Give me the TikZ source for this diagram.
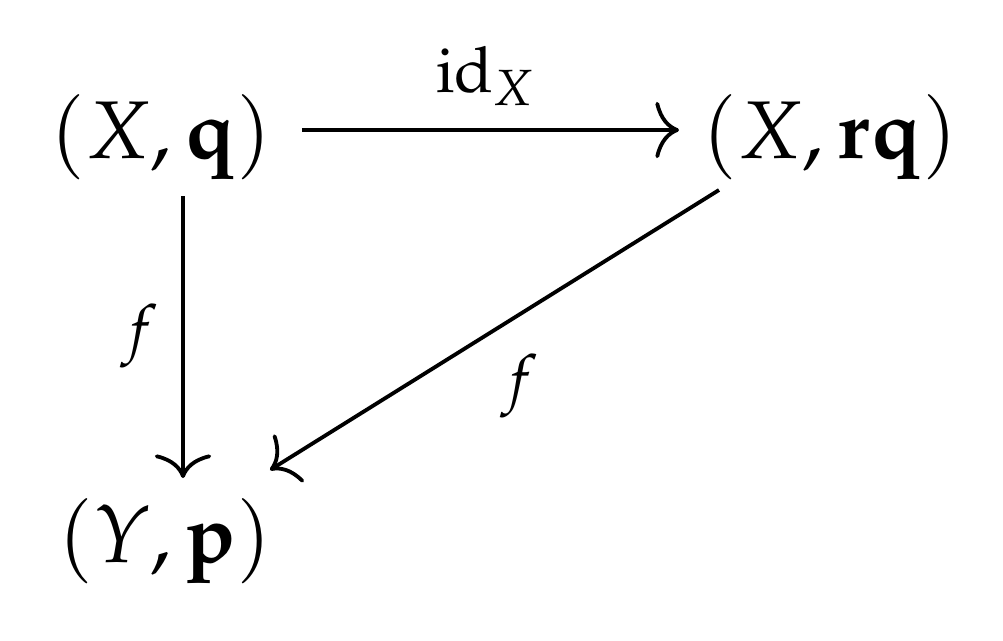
\documentclass[tikz,border=0pt]{standalone}
\usepackage{mathpazo}
\usetikzlibrary{arrows.meta}
\DeclareMathSizes{7}{7}{5.6}{5}
\begin{document}
\begin{tikzpicture}[x=0.11pt,y=-0.11pt,
  obj/.style={inner sep=0pt,anchor=base,font=\fontsize{9pt}{11pt}\selectfont},
  lbl/.style={inner sep=0pt,font=\fontsize{7pt}{9pt}\selectfont},
  arr/.style={line width=0.42pt,-{To[length=2.6pt,width=6.2pt]}}]
\useasboundingbox (0,0) rectangle (1003,640);
\node[obj] (xq) at (161,158) {$(X,\mathbf{q})$};
\node[obj] (xrq) at (830,158) {$(X,\mathbf{rq})$};
\node[obj] (yp) at (165,562) {$(Y,\mathbf{p})$};
\coordinate (h1) at (302,130);
\coordinate (h2) at (679,130);
\coordinate (v1) at (183,196);
\coordinate (v2) at (183,478);
\coordinate (d1) at (719,190);
\coordinate (d2) at (270,470);
\draw[arr] (h1) -- (h2);
\node[lbl,anchor=base] (id) at (487,92) {$\mathrm{id}_X$};
\draw[arr] (v1) -- (v2);
\draw[arr] (d1) -- (d2);
\node[lbl] (f1) at (139,336) {$f$};
\node[lbl] (f2) at (520,386) {$f$};
\end{tikzpicture}
\end{document}
